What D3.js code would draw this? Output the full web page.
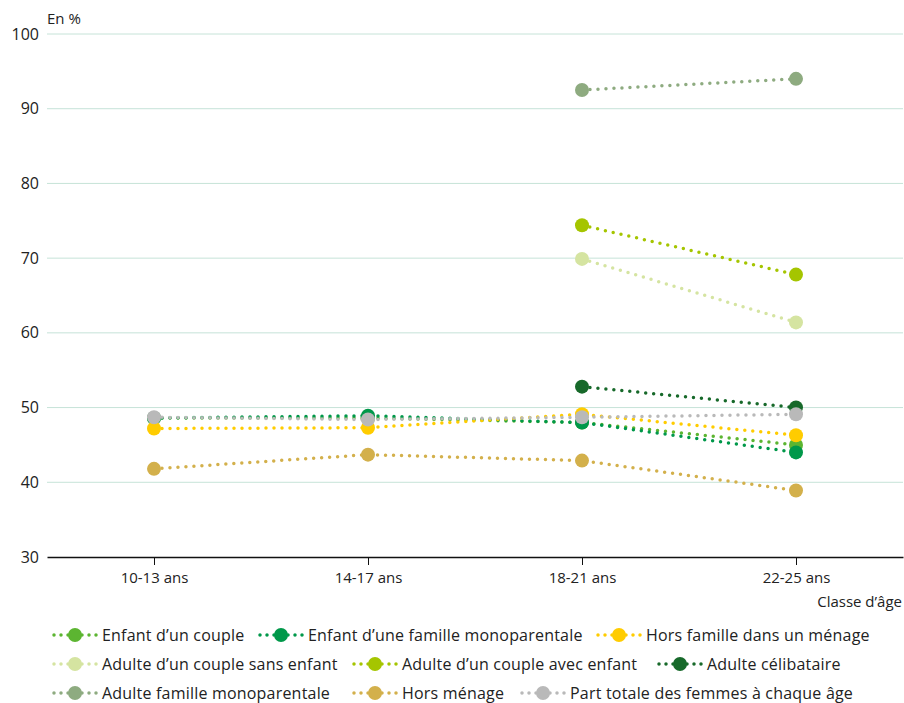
<!DOCTYPE html>
<html>
<head>
<meta charset="utf-8">
<script src="https://cdn.jsdelivr.net/npm/d3@7"></script>
<style>
  body { margin: 0; background: #fff; }
  text { font-family: "Open Sans", sans-serif; fill: #222; }
</style>
</head>
<body>
<div id="chart"></div>
<script>
// categories and values (en %)
var ageClasses = ["10-13 ans", "14-17 ans", "18-21 ans", "22-25 ans"];
var yTicks = [30, 40, 50, 60, 70, 80, 90, 100];

var seriesNames = [
    "Enfant d\u2019un couple",
    "Enfant d\u2019une famille monoparentale",
    "Hors famille dans un m\u00e9nage",
    "Adulte d\u2019un couple sans enfant",
    "Adulte d\u2019un couple avec enfant",
    "Adulte c\u00e9libataire",
    "Adulte famille monoparentale",
    "Hors m\u00e9nage",
    "Part totale des femmes \u00e0 chaque \u00e2ge"
];
var seriesColors = ["#5cb531", "#00984a", "#ffcc00", "#d5e4a1", "#a5c500", "#17692a", "#8eab80", "#d3b04b", "#b9b9b9"];

var enfantCouple = [48.6, 48.6, 48.0, 45.0];
var enfantMono = [48.6, 48.9, 48.0, 44.0];
var horsFamille = [47.2, 47.3, 49.1, 46.3];
var coupleSans = [null, null, 69.9, 61.4];
var coupleAvec = [null, null, 74.4, 67.8];
var celibataire = [null, null, 52.8, 50.0];
var familleMono = [null, null, 92.5, 94.0];
var horsMenage = [41.8, 43.7, 42.9, 38.9];
var partTotale = [48.7, 48.4, 48.7, 49.1];

var seriesValues = [enfantCouple, enfantMono, horsFamille, coupleSans, coupleAvec, celibataire, familleMono, horsMenage, partTotale];

var svgWidth = 904;
var svgHeight = 703;
var margin = { top: 34, right: 1, bottom: 146, left: 47 };
var width = svgWidth - margin.left - margin.right;
var height = svgHeight - margin.top - margin.bottom;

var svg = d3.select("#chart")
    .append("svg")
    .attr("width", svgWidth)
    .attr("height", svgHeight);

var chartGroup = svg.append("g")
    .attr("transform", `translate(${margin.left}, ${margin.top})`);

var xScale = d3.scalePoint()
    .domain(ageClasses)
    .range([0, width])
    .padding(0.5);

var yScale = d3.scaleLinear()
    .domain([30, 100])
    .range([height, 0]);

// gridlines
chartGroup.append("g").selectAll("line")
    .data(yTicks.filter(d => d > 30))
    .enter()
    .append("line")
    .attr("x1", 0)
    .attr("x2", width)
    .attr("y1", d => yScale(d))
    .attr("y2", d => yScale(d))
    .attr("stroke", "#c6e3d8")
    .attr("stroke-width", 1);

// y axis labels
var leftAxis = d3.axisLeft(yScale).tickValues(yTicks).tickSize(0).tickPadding(8);
var yAxis = chartGroup.append("g").call(leftAxis);
yAxis.select(".domain").remove();
yAxis.selectAll("text")
    .style("font-size", "16px")
    .style("font-family", "'Open Sans', sans-serif")
    .attr("fill", "#222");

// x axis
var bottomAxis = d3.axisBottom(xScale).tickSize(8).tickPadding(7).tickSizeOuter(0);
var xAxis = chartGroup.append("g")
    .attr("transform", `translate(0, ${height})`)
    .call(bottomAxis);
xAxis.select(".domain").attr("stroke", "#111").attr("stroke-width", 1.5);
xAxis.selectAll(".tick line").attr("stroke", "#111");
xAxis.selectAll("text")
    .style("font-size", "15px")
    .style("font-family", "'Open Sans', sans-serif")
    .attr("fill", "#222");

// titles
svg.append("text")
    .attr("x", 47)
    .attr("y", 24)
    .style("font-size", "15px")
    .text("En %");

svg.append("text")
    .attr("x", 902)
    .attr("y", 607)
    .attr("text-anchor", "end")
    .style("font-size", "15px")
    .text("Classe d\u2019\u00e2ge");

// lines and points
var line = d3.line()
    .defined(d => d.v !== null)
    .x(d => xScale(d.c))
    .y(d => yScale(d.v));

seriesValues.forEach(function(values, i) {
    var pts = values.map((v, j) => ({ c: ageClasses[j], v: v }));
    var g = chartGroup.append("g");
    g.append("path")
        .datum(pts)
        .attr("d", line)
        .attr("fill", "none")
        .attr("stroke", seriesColors[i])
        .attr("stroke-width", 3.5)
        .attr("stroke-linecap", "round")
        .attr("stroke-dasharray", "0 8");
    g.selectAll("circle")
        .data(pts.filter(d => d.v !== null))
        .enter()
        .append("circle")
        .attr("cx", d => xScale(d.c))
        .attr("cy", d => yScale(d.v))
        .attr("r", 7)
        .attr("fill", seriesColors[i]);
});

// legend, three rows
var legendRows = [[0, 1, 2], [3, 4, 5], [6, 7, 8]];
var legendX = [[52, 258, 596], [52, 352, 657], [52, 352, 520]];
var legendGroup = svg.append("g");
legendRows.forEach(function(row, r) {
    var y = 635 + r * 29;
    row.forEach(function(i, k) {
        var item = legendGroup.append("g").attr("transform", `translate(${legendX[r][k]}, ${y})`);
        item.append("line")
            .attr("x1", 2).attr("x2", 46)
            .attr("y1", 0).attr("y2", 0)
            .attr("stroke", seriesColors[i])
            .attr("stroke-width", 3.5)
            .attr("stroke-linecap", "round")
            .attr("stroke-dasharray", "0 7");
        item.append("circle")
            .attr("cx", 23).attr("cy", 0)
            .attr("r", 7)
            .attr("fill", seriesColors[i]);
        item.append("text")
            .attr("x", 50)
            .attr("y", 5.5)
            .style("font-size", "16px")
            .style("letter-spacing", "0.2px")
            .text(seriesNames[i]);
    });
});
</script>
</body>
</html>
